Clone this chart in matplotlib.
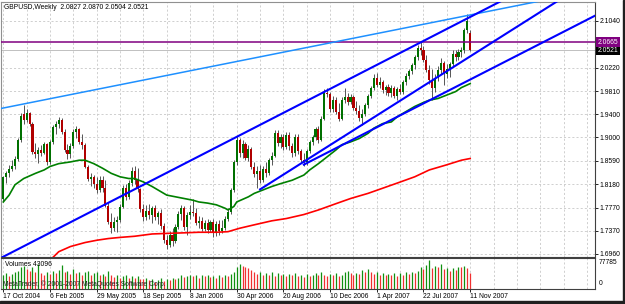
import numpy as np
import matplotlib
matplotlib.use("Agg")
import matplotlib.pyplot as plt
from matplotlib.patches import Rectangle

plt.rcParams['font.family'] = ['Liberation Sans', 'DejaVu Sans']

#### weekly GBPUSD candles, week 0 = 17 Oct 2004, week 160 = 11 Nov 2007
opens = [1.7920, 1.8300, 1.8370, 1.8450, 1.8500, 1.8620, 1.8950, 1.9400, 1.9300, 1.9420,
         1.9230, 1.8750, 1.8700, 1.8780, 1.8720, 1.8880, 1.8560, 1.8920, 1.9180, 1.9230,
         1.9300, 1.9100, 1.8780, 1.8700, 1.8850, 1.9100, 1.9150, 1.8920, 1.8870, 1.8490,
         1.8270, 1.8300, 1.8180, 1.8080, 1.8260, 1.8120, 1.7800, 1.7520, 1.7420, 1.7520,
         1.7560, 1.7790, 1.8120, 1.7960, 1.8200, 1.8420, 1.8260, 1.8090, 1.7740, 1.7600,
         1.7720, 1.7640, 1.7760, 1.7600, 1.7680, 1.7450, 1.7200, 1.7120, 1.7300, 1.7180,
         1.7440, 1.7660, 1.7760, 1.7440, 1.7640, 1.7700, 1.7680, 1.7500, 1.7540, 1.7400,
         1.7500, 1.7380, 1.7520, 1.7320, 1.7480, 1.7360, 1.7420, 1.7580, 1.7700, 1.8080,
         1.8560, 1.8960, 1.8720, 1.8880, 1.8640, 1.8800, 1.8480, 1.8360, 1.8420, 1.8260,
         1.8440, 1.8380, 1.8600, 1.8680, 1.9080, 1.8900, 1.9000, 1.8830, 1.9040, 1.8840,
         1.8720, 1.9000, 1.8760, 1.8600, 1.8560, 1.8760, 1.8920, 1.9000, 1.9140, 1.8960,
         1.9320, 1.9780, 1.9760, 1.9500, 1.9660, 1.9440, 1.9320, 1.9660, 1.9700, 1.9620,
         1.9700, 1.9520, 1.9460, 1.9340, 1.9400, 1.9560, 1.9720, 1.9860, 2.0040, 1.9920,
         1.9960, 1.9820, 1.9880, 1.9780, 1.9860, 1.9720, 1.9840, 1.9800, 1.9960, 2.0080,
         2.0160, 2.0260, 2.0400, 2.0560, 2.0520, 2.0360, 2.0180, 2.0000, 1.9860, 2.0040,
         2.0180, 2.0300, 2.0100, 2.0200, 2.0280, 2.0460, 2.0400, 2.0500, 2.0520, 2.0880,
         2.0827]
highs = [1.8330, 1.8420, 1.8520, 1.8600, 1.8680, 1.8990, 1.9430, 1.9560, 1.9500, 1.9440,
         1.9260, 1.8900, 1.8830, 1.8870, 1.8920, 1.8900, 1.8960, 1.9220, 1.9290, 1.9360,
         1.9340, 1.9150, 1.8880, 1.8900, 1.9140, 1.9200, 1.9170, 1.9050, 1.8900, 1.8520,
         1.8370, 1.8340, 1.8300, 1.8320, 1.8330, 1.8250, 1.7870, 1.7680, 1.7600, 1.7620,
         1.7830, 1.8160, 1.8180, 1.8260, 1.8490, 1.8500, 1.8460, 1.8120, 1.7840, 1.7820,
         1.7840, 1.7800, 1.7820, 1.7720, 1.7740, 1.7500, 1.7300, 1.7360, 1.7420, 1.7480,
         1.7720, 1.7820, 1.7800, 1.7700, 1.7820, 1.7920, 1.7760, 1.7620, 1.7600, 1.7560,
         1.7580, 1.7560, 1.7580, 1.7540, 1.7560, 1.7560, 1.7620, 1.7760, 1.8120, 1.8600,
         1.9030, 1.8990, 1.8950, 1.8920, 1.8860, 1.8830, 1.8560, 1.8500, 1.8520, 1.8500,
         1.8560, 1.8640, 1.8740, 1.9120, 1.9120, 1.9060, 1.9050, 1.9100, 1.9100, 1.8900,
         1.9060, 1.9060, 1.8800, 1.8720, 1.8800, 1.8960, 1.9040, 1.9180, 1.9200, 1.9380,
         1.9840, 1.9860, 1.9800, 1.9720, 1.9700, 1.9600, 1.9700, 1.9860, 1.9780, 1.9760,
         1.9740, 1.9640, 1.9560, 1.9500, 1.9600, 1.9760, 1.9900, 2.0100, 2.0130, 2.0060,
         2.0000, 1.9920, 1.9940, 1.9920, 1.9900, 1.9880, 1.9940, 2.0000, 2.0120, 2.0200,
         2.0300, 2.0440, 2.0620, 2.0660, 2.0600, 2.0440, 2.0260, 2.0200, 2.0100, 2.0240,
         2.0380, 2.0340, 2.0280, 2.0320, 2.0520, 2.0520, 2.0540, 2.0580, 2.0920, 2.1161,
         2.0870]
lows = [1.7880, 1.8210, 1.8300, 1.8420, 1.8440, 1.8590, 1.8920, 1.9230, 1.9260, 1.9200,
        1.8700, 1.8640, 1.8550, 1.8680, 1.8700, 1.8520, 1.8540, 1.8880, 1.9050, 1.9160,
        1.9050, 1.8740, 1.8620, 1.8640, 1.8820, 1.8980, 1.8880, 1.8800, 1.8460, 1.8230,
        1.8150, 1.8120, 1.8030, 1.8040, 1.8050, 1.7780, 1.7480, 1.7320, 1.7360, 1.7350,
        1.7520, 1.7760, 1.7900, 1.7920, 1.8150, 1.8180, 1.8050, 1.7700, 1.7540, 1.7550,
        1.7580, 1.7500, 1.7560, 1.7480, 1.7400, 1.7150, 1.7040, 1.7080, 1.7100, 1.7150,
        1.7400, 1.7560, 1.7380, 1.7300, 1.7580, 1.7620, 1.7460, 1.7420, 1.7360, 1.7360,
        1.7320, 1.7340, 1.7260, 1.7280, 1.7300, 1.7330, 1.7380, 1.7540, 1.7660, 1.8040,
        1.8520, 1.8660, 1.8640, 1.8600, 1.8580, 1.8440, 1.8300, 1.8120, 1.8200, 1.8220,
        1.8300, 1.8340, 1.8520, 1.8650, 1.8840, 1.8820, 1.8780, 1.8800, 1.8780, 1.8660,
        1.8680, 1.8700, 1.8560, 1.8500, 1.8520, 1.8720, 1.8860, 1.8960, 1.8900, 1.8930,
        1.9300, 1.9700, 1.9440, 1.9440, 1.9400, 1.9280, 1.9300, 1.9600, 1.9560, 1.9580,
        1.9480, 1.9400, 1.9280, 1.9220, 1.9380, 1.9520, 1.9680, 1.9820, 1.9880, 1.9860,
        1.9780, 1.9740, 1.9720, 1.9700, 1.9680, 1.9660, 1.9760, 1.9760, 1.9920, 2.0020,
        2.0100, 2.0200, 2.0360, 2.0440, 2.0320, 2.0140, 1.9940, 1.9660, 1.9800, 1.9980,
        2.0100, 1.9920, 2.0040, 2.0060, 2.0240, 2.0340, 2.0350, 2.0400, 2.0480, 2.0820,
        2.0504]
closes = [1.8300, 1.8370, 1.8450, 1.8500, 1.8620, 1.8950, 1.9380, 1.9300, 1.9420, 1.9230,
          1.8750, 1.8700, 1.8780, 1.8720, 1.8880, 1.8560, 1.8920, 1.9180, 1.9230, 1.9300,
          1.9100, 1.8780, 1.8700, 1.8850, 1.9100, 1.9150, 1.8920, 1.8870, 1.8490, 1.8270,
          1.8300, 1.8180, 1.8080, 1.8260, 1.8120, 1.7800, 1.7520, 1.7420, 1.7520, 1.7560,
          1.7790, 1.8120, 1.7960, 1.8200, 1.8420, 1.8260, 1.8090, 1.7740, 1.7600, 1.7720,
          1.7640, 1.7760, 1.7600, 1.7680, 1.7450, 1.7200, 1.7120, 1.7300, 1.7180, 1.7440,
          1.7660, 1.7760, 1.7440, 1.7640, 1.7700, 1.7680, 1.7500, 1.7540, 1.7400, 1.7500,
          1.7380, 1.7520, 1.7320, 1.7480, 1.7360, 1.7420, 1.7580, 1.7700, 1.8080, 1.8560,
          1.8960, 1.8720, 1.8880, 1.8640, 1.8800, 1.8480, 1.8360, 1.8420, 1.8260, 1.8440,
          1.8380, 1.8600, 1.8680, 1.9080, 1.8900, 1.9000, 1.8830, 1.9040, 1.8840, 1.8720,
          1.9000, 1.8760, 1.8600, 1.8560, 1.8760, 1.8920, 1.9000, 1.9140, 1.8960, 1.9320,
          1.9780, 1.9760, 1.9500, 1.9660, 1.9440, 1.9320, 1.9660, 1.9700, 1.9620, 1.9700,
          1.9520, 1.9460, 1.9340, 1.9400, 1.9560, 1.9720, 1.9860, 2.0040, 1.9920, 1.9960,
          1.9820, 1.9880, 1.9780, 1.9860, 1.9720, 1.9840, 1.9800, 1.9960, 2.0080, 2.0160,
          2.0260, 2.0400, 2.0560, 2.0520, 2.0360, 2.0180, 2.0000, 1.9860, 2.0040, 2.0180,
          2.0300, 2.0100, 2.0200, 2.0280, 2.0460, 2.0400, 2.0500, 2.0520, 2.0880, 2.1040,
          2.0521]

# weekly volumes (tick counts)
volumes = [36000, 41000, 33000, 39000, 44000, 47000, 58000, 62000, 52000, 49000,
           60000, 46000, 66000, 43000, 38000, 45000, 40000, 47000, 42000, 50000,
           64000, 44000, 48000, 39000, 52000, 41000, 46000, 38000, 44000, 49000,
           36000, 42000, 45000, 37000, 40000, 33000, 47000, 38000, 31000, 36000,
           29000, 34000, 38000, 30000, 35000, 28000, 33000, 27000, 25000, 30000,
           22000, 27000, 19000, 24000, 28000, 21000, 26000, 23000, 30000, 25000,
           28000, 36000, 31000, 34000, 38000, 33000, 36000, 30000, 37000, 34000,
           38000, 32000, 35000, 29000, 36000, 31000, 38000, 34000, 40000, 45000,
           60000, 67000, 62000, 58000, 55000, 50000, 46000, 40000, 44000, 36000,
           42000, 38000, 45000, 34000, 41000, 37000, 39000, 33000, 40000, 36000,
           43000, 35000, 38000, 32000, 39000, 35000, 37000, 41000, 36000, 44000,
           38000, 34000, 40000, 36000, 42000, 33000, 38000, 44000, 47000, 41000,
           37000, 43000, 39000, 50000, 46000, 52000, 44000, 40000, 45000, 38000,
           42000, 36000, 40000, 37000, 43000, 35000, 41000, 38000, 44000, 40000,
           46000, 42000, 48000, 60000, 52000, 64000, 77785, 55000, 62000, 58000,
           66000, 52000, 57000, 49000, 55000, 51000, 60000, 58000, 62000, 57000,
           43096]

# moving averages (week, price)
green_ma_weeks = [0, 2, 4, 7, 11, 14, 16, 19, 23, 26, 28, 31, 34, 37, 40, 43, 45, 48, 51, 54,
                  56, 59, 62, 65, 67, 70, 73, 76, 77, 79, 80, 84, 86, 89, 92, 95, 99, 103, 105, 108,
                  111, 114, 116, 119, 122, 125, 127, 130, 133, 135, 138, 141, 144, 146, 149, 152,
                  155, 157, 160]
green_ma = [1.787, 1.799, 1.817, 1.828, 1.837, 1.843, 1.849, 1.854, 1.857, 1.860,
            1.860, 1.854, 1.846, 1.837, 1.831, 1.828, 1.828, 1.822, 1.814, 1.805,
            1.799, 1.796, 1.793, 1.790, 1.787, 1.785, 1.782, 1.776, 1.773, 1.779,
            1.787, 1.796, 1.802, 1.808, 1.814, 1.819, 1.825, 1.834, 1.843, 1.854,
            1.866, 1.878, 1.887, 1.892, 1.898, 1.907, 1.916, 1.924, 1.927, 1.936,
            1.945, 1.954, 1.961, 1.965, 1.968, 1.974, 1.980, 1.987, 1.994]
red_ma_weeks = [17, 19, 23, 28, 32, 36, 40, 45, 51, 56, 62, 67, 73, 77, 81, 86, 92, 97, 103, 108,
                114, 119, 125, 130, 135, 141, 146, 152, 157, 160]
red_ma = [1.690, 1.700, 1.709, 1.716, 1.720, 1.723, 1.725, 1.727, 1.731, 1.732,
          1.733, 1.734, 1.734, 1.735, 1.741, 1.747, 1.754, 1.758, 1.765, 1.773,
          1.784, 1.793, 1.802, 1.811, 1.820, 1.831, 1.843, 1.852, 1.860, 1.863]

# trend lines (start / end anchors, week, price)
lightblue_weeks = [-5, 210]
lightblue_prices = [1.9462, 2.1649]
channel_top_weeks = [-5, 210]
channel_top_prices = [1.6781, 2.2416]
ray_mid_weeks = [88, 210]
ray_mid_prices = [1.8090, 2.2031]
ray_low_weeks = [103, 210]
ray_low_prices = [1.8523, 2.1316]

level_price = 2.0665
bid_price = 2.0521

price_ticks = [2.1040, 2.0220, 1.9810, 1.9400, 1.9000, 1.8590, 1.8180, 1.7770, 1.7370, 1.6960]
date_weeks = [0, 16, 32, 48, 64, 80, 96, 112, 128, 144, 160]
date_labels = ['17 Oct 2004', '6 Feb 2005', '29 May 2005', '18 Sep 2005', '8 Jan 2006',
               '30 Apr 2006', '20 Aug 2006', '10 Dec 2006', '1 Apr 2007', '22 Jul 2007',
               '11 Nov 2007']

FS = 4.9
W, H = 625, 304

fig = plt.figure(figsize=(W / 100, H / 100), dpi=100)
ax = fig.add_axes([1 / W, (H - 256.5) / H, 594 / W, 254.5 / H])
axv = fig.add_axes([1 / W, (H - 288.5) / H, 594 / W, 31 / H])

weeks = np.arange(len(closes))
o = np.array(opens); h = np.array(highs); l = np.array(lows); c = np.array(closes)
up = c >= o
body_lo = np.minimum(o, c)
body_h = np.maximum(np.abs(c - o), 0.0007)

# grid
for p in price_ticks:
    ax.axhline(p, color='#c8c8c8', lw=0.6, ls=(0, (2.5, 2.5)), zorder=0)
for wk in range(0, 204, 8):
    ax.axvline(wk, color='#c8c8c8', lw=0.6, ls=(0, (2.5, 2.5)), zorder=0)
    axv.axvline(wk, color='#c8c8c8', lw=0.6, ls=(0, (2.5, 2.5)), zorder=0)

# candles
ax.vlines(weeks, l, h, color='#555555', lw=0.7, zorder=2)
ax.bar(weeks[up], body_h[up], bottom=body_lo[up], width=0.72, color='#007000', zorder=3)
ax.bar(weeks[~up], body_h[~up], bottom=body_lo[~up], width=0.72, color='#b00000', zorder=3)

# indicators and objects
ax.plot(green_ma_weeks, green_ma, color='#008000', lw=1.2, zorder=4)
ax.plot(red_ma_weeks, red_ma, color='#ff0000', lw=1.2, zorder=4)
ax.axhline(bid_price, color='#c0c0c0', lw=0.7, zorder=1)
ax.axhline(level_price, color='#800080', lw=1.1, zorder=4)
ax.plot(lightblue_weeks, lightblue_prices, color='#1e90ff', lw=1.1, zorder=5)
ax.plot(channel_top_weeks, channel_top_prices, color='#0000ff', lw=1.5, zorder=5)
ax.plot(ray_mid_weeks, ray_mid_prices, color='#0000ff', lw=1.5, zorder=5)
ax.plot(ray_low_weeks, ray_low_prices, color='#0000ff', lw=1.5, zorder=5)

ax.set_xlim(-0.79, 202.78)
ax.set_ylim(1.6916, 2.1367)
ax.set_xticks([])
ax.yaxis.tick_right()
ax.set_yticks(price_ticks)
ax.set_yticklabels(['%.4f' % p for p in price_ticks])
ax.tick_params(axis='y', direction='out', length=2.2, width=0.6, pad=1.2,
               labelsize=FS, colors='#000000')

# price labels on the axis
ax.text(1.0045, bid_price, '2.0521', transform=ax.get_yaxis_transform(), ha='left',
        va='center', fontsize=FS, color='white', clip_on=False, zorder=6,
        bbox=dict(boxstyle='square,pad=0.18', fc='#000000', ec='none'))
ax.text(1.0045, level_price, '2.0665', transform=ax.get_yaxis_transform(), ha='left',
        va='center', fontsize=FS, color='white', clip_on=False, zorder=7,
        bbox=dict(boxstyle='square,pad=0.18', fc='#800080', ec='none'))

ax.text(0.0045, 0.978, 'GBPUSD,Weekly  2.0827 2.0870 2.0504 2.0521', transform=ax.transAxes,
        ha='left', va='center', fontsize=FS, color='#000000')

# volumes
vol = np.array(volumes)
vol_up = np.r_[True, vol[1:] > vol[:-1]]
axv.vlines(weeks[vol_up], 0, vol[vol_up], color='#109010', lw=0.9, zorder=2)
axv.vlines(weeks[~vol_up], 0, vol[~vol_up], color='#f03030', lw=0.9, zorder=2)
axv.set_xlim(-0.79, 202.78)
axv.set_ylim(0, 84600)
axv.set_yticks([])
axv.set_xticks(date_weeks)
axv.set_xticklabels(date_labels, ha='left')
axv.tick_params(axis='x', direction='out', length=2.2, width=0.6, pad=1.0,
                labelsize=FS, colors='#000000')

axv.text(0.0067, 0.76, 'Volumes 43096', transform=axv.transAxes, ha='left', va='center',
         fontsize=FS, color='#000000', zorder=5)
axv.text(0.004, 0.15, 'MetaTrader, \u00a9 2001-2007 MetaQuotes Software Corp.',
         transform=axv.transAxes, ha='left', va='center', fontsize=FS, color='#202020', zorder=5)
axv.text(1.0067, 0.83, '77785', transform=axv.transAxes, ha='left', va='center', fontsize=FS)
axv.text(1.0067, 0.15, '0', transform=axv.transAxes, ha='left', va='center', fontsize=FS)

# frames
for a in (ax, axv):
    a.spines['left'].set_color('#909090')
    a.spines['top'].set_color('#909090')
    a.spines['right'].set_color('#404040')
    a.spines['bottom'].set_color('#404040')
    for s in a.spines.values():
        s.set_linewidth(0.8)
axv.spines['top'].set_color('#404040')

# window border at right and bottom
fig.patches.append(Rectangle((0, 0), 1, 3.3 / H, transform=fig.transFigure,
                             color='#202020', zorder=10))
fig.patches.append(Rectangle((622.5 / W, 0), 2.5 / W, 1, transform=fig.transFigure,
                             color='#202020', zorder=10))

fig.savefig('out.png', dpi=100)
